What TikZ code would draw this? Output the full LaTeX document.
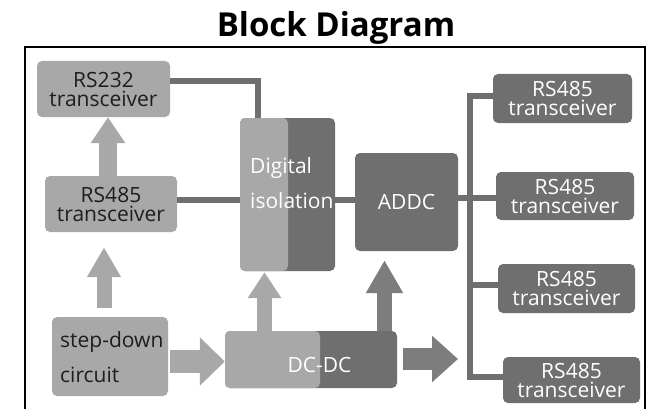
\documentclass[tikz,border=0pt]{standalone}
\usepackage{fontspec}
\setmainfont{Open Sans}
\usetikzlibrary{arrows.meta}
\definecolor{lightg}{HTML}{A8A8A8}
\definecolor{darkg}{HTML}{6F6F6F}
\definecolor{arrowd}{HTML}{7D7D7D}
\definecolor{txt}{HTML}{1E1E1E}
\begin{document}
\begin{tikzpicture}[x=1pt,y=-1pt,
  box/.style={rounded corners=5pt, draw=none, inner sep=0pt, align=center, font=\fontsize{21}{19}\selectfont},
  lbox/.style={box, fill=lightg, text=txt},
  dbox/.style={box, fill=darkg, text=white},
  lbl/.style={inner sep=0pt, font=\fontsize{21}{21}\selectfont},
  wire/.style={draw=darkg, line width=6pt},
  barrow/.style n args={3}{line cap=butt, line width=#1, -{Triangle[width=#2,length=#3]}}
]
\useasboundingbox (0,0) rectangle (655,409);
\fill[white] (0,0) rectangle (655,409);
% title and frame
\node[inner sep=0pt, font=\fontsize{33}{40}\selectfont\bfseries, anchor=base] (title) at (336,37) {Block Diagram};
\draw[line width=2pt] (25,409) -- (25,47) -- (645,47) -- (645,409);

% left column
\node[lbox, minimum width=133pt, minimum height=56pt] (rs232) at (103.5,89) {RS232\\transceiver};
\node[lbox, minimum width=132pt, minimum height=56pt] (rs485l) at (111,204) {RS485\\transceiver};
\node[lbox, minimum width=116pt, minimum height=79pt] (stepdown) at (110,356.5) {};
\node[lbl, anchor=base west, text=txt] (sd1) at (60,347) {step-down};
\node[lbl, anchor=base west, text=txt] (sd2) at (60,382) {circuit};

% digital isolation
\node[dbox, minimum width=95pt, minimum height=153pt] (digi) at (287.5,194.5) {};
\node[lbox, minimum width=48pt, minimum height=153pt] (digil) at (264,194.5) {};
\node[lbl, anchor=base west, text=white] (dg1) at (250,173) {Digital};
\node[lbl, anchor=base west, text=white] (dg2) at (250,208) {isolation};

% DC-DC
\node[dbox, minimum width=172pt, minimum height=57pt] (dcdc) at (311,359.5) {};
\node[lbox, minimum width=95pt, minimum height=57pt] (dcdcl) at (272.5,359.5) {};
\node[lbl, text=white] (dctxt) at (319.5,364.5) {DC-DC};

% ADDC
\node[dbox, minimum width=103pt, minimum height=98pt] (addc) at (406.5,202) {ADDC};

% right transceivers
\node[dbox, minimum width=139pt, minimum height=49pt] (r1) at (562.5,98.5) {RS485\\transceiver};
\node[dbox, minimum width=138pt, minimum height=48pt] (r2) at (565,196) {RS485\\transceiver};
\node[dbox, minimum width=137pt, minimum height=49pt] (r3) at (566.5,288.5) {RS485\\transceiver};
\node[dbox, minimum width=137pt, minimum height=46pt] (r4) at (571.5,380) {RS485\\transceiver};

% wires
\draw[wire] (rs232.east |- 0,81) -- (258,81) -- (digi.north -| 258,0);
\draw[wire] (rs485l.east |- 0,200) -- (digi.west |- 0,200);
\draw[wire] (digi.east |- 0,200) -- (addc.west |- 0,200);
\coordinate (bustop) at (470,96);
\coordinate (busbot) at (470,377);
\draw[wire] (r1.west |- bustop) -- (bustop) -- (busbot) -- (r4.west |- busbot);
\draw[wire] (addc.east |- 0,198) -- (r2.west |- 0,198);
\draw[wire] (470,285) -- (r3.west |- 0,285);

% fat arrows
\draw[barrow={18pt}{33pt}{26pt}, draw=lightg] (rs485l.north -| 108,0) -- (rs232.south -| 108,0);
\draw[barrow={15pt}{32pt}{30pt}, draw=lightg, shorten <=9pt, shorten >=15pt] (stepdown.north -| 104,0) -- (rs485l.south -| 104,0);
\draw[barrow={23pt}{47pt}{25pt}, draw=lightg, shorten <=2pt] (stepdown.east |- 0,361.5) -- (dcdc.west |- 0,361.5);
\draw[barrow={15pt}{32pt}{26pt}, draw=lightg, shorten >=1pt] (dcdc.north -| 264.5,0) -- (digi.south -| 264.5,0);
\draw[barrow={15pt}{35pt}{33pt}, draw=arrowd, shorten >=9pt] (dcdc.north -| 384.5,0) -- (addc.south -| 384.5,0);
\coordinate (a6tip) at (458,359);
\draw[barrow={22pt}{45pt}{26pt}, draw=arrowd, shorten <=6pt] (dcdc.east |- a6tip) -- (a6tip);
\end{tikzpicture}
\end{document}
